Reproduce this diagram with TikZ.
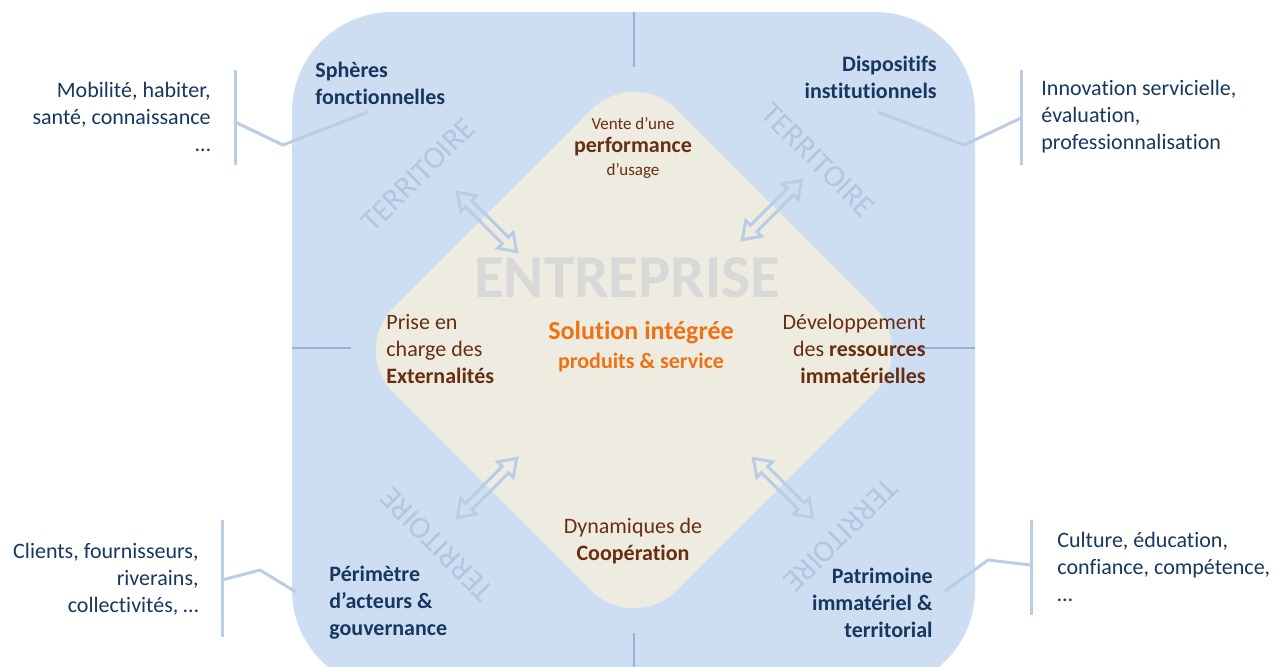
\documentclass[tikz,border=0pt]{standalone}
\usepackage{fontspec}
\setmainfont{Carlito}[Ligatures=NoCommon]
\definecolor{cadre}{RGB}{205,222,242}
\definecolor{coeur}{RGB}{238,236,225}
\definecolor{trait}{RGB}{149,179,215}
\definecolor{pale}{RGB}{185,205,229}
\definecolor{filigrane}{RGB}{178,198,225}
\definecolor{bleunuit}{RGB}{23,55,94}
\definecolor{brun}{RGB}{105,45,15}
\definecolor{solorange}{RGB}{240,112,20}
\definecolor{gristitre}{RGB}{216,216,216}
\tikzset{
  quart/.style={font=\bfseries\fontsize{11}{13.5}\selectfont, text=bleunuit, inner sep=0pt},
  exemple/.style={font=\fontsize{11}{13.5}\selectfont, text=bleunuit, inner sep=0pt},
  pole/.style={font=\fontsize{11}{13.5}\selectfont, text=brun, inner sep=0pt},
  terr/.style={font=\fontsize{15.5}{18}\selectfont, text=filigrane, inner sep=0pt},
  sep/.style={draw=trait, line width=1pt},
  callout/.style={draw=pale, line width=1.5pt},
  dblarrow/.pic={
    \draw[pale, line width=1.5pt] (-42,0) -- (-26,-11) -- (-26,-4.5) -- (26,-4.5) -- (26,-11)
      -- (42,0) -- (26,11) -- (26,4.5) -- (-26,4.5) -- (-26,11) -- cycle;
  }
}
\begin{document}
\begin{tikzpicture}[x=0.5pt, y=-0.5pt]
	\useasboundingbox (0,0) rectangle (1285,666);
	\clip (0,0) rectangle (1285,666);
	% territoire
	\fill[cadre, rounded corners=50pt] (292,12) rectangle (975,690);
	\coordinate (e-n) at (634,67);
	\coordinate (e-e) at (917,350);
	\coordinate (e-s) at (634,633);
	\coordinate (e-w) at (351,350);
	\draw[sep] (634,12) -- (e-n);
	\draw[sep] (e-s) -- (634,690);
	\draw[sep] (292,348) -- (e-w |- 0,348);
	\draw[sep] (e-e |- 0,348) -- (975,348);
	% entreprise
	\fill[coeur, rounded corners=30pt] (e-n) -- (e-e) -- (e-s) -- (e-w) -- cycle;
	\node[terr, rotate=45] (t-no) at (418,175) {TERRITOIRE};
	\node[terr, rotate=-45] (t-ne) at (818,160) {TERRITOIRE};
	\node[terr, rotate=135] (t-so) at (437,545) {TERRITOIRE};
	\node[terr, rotate=-135] (t-se) at (841,535) {TERRITOIRE};
	\pic[rotate=-45] at (487,222) {dblarrow};
	\pic[rotate=45] at (772,210) {dblarrow};
	\pic[rotate=45] at (487,488) {dblarrow};
	\pic[rotate=-45] at (783,488) {dblarrow};
	\node[font=\bfseries\fontsize{30.5}{36}\selectfont, text=gristitre, inner sep=0pt] (entr) at (627,278) {ENTREPRISE};
	\node[font=\bfseries\fontsize{13}{15}\selectfont, text=solorange, inner sep=0pt] (sol) at (641,333) {Solution intégrée};
	\node[font=\bfseries\fontsize{11}{13.5}\selectfont, text=solorange, inner sep=0pt] (prod) at (641,362) {produits \& service};
	% poles
	\node[pole, font=\fontsize{8.5}{10}\selectfont] (vente) at (633,124) {Vente d’une};
	\node[pole, font=\bfseries\fontsize{11}{13.5}\selectfont] (perf) at (633,147) {performance};
	\node[pole, font=\fontsize{8.5}{10}\selectfont] (usage) at (633,171) {d’usage};
	\node[pole, align=left, anchor=west] (ext) at (386,349) {Prise en\\charge des\\\textbf{Externalités}};
	\node[pole, align=right, anchor=east] (dev) at (926,349) {Développement\\des \textbf{ressources}\\\textbf{immatérielles}};
	\node[pole, align=center] (coop) at (633,541) {Dynamiques de\\\textbf{Coopération}};
	% quadrants
	\node[quart, align=left, anchor=west] (sph) at (315,83) {Sphères\\fonctionnelles};
	\node[quart, align=right, anchor=east] (disp) at (937,77) {Dispositifs\\institutionnels};
	\node[quart, align=left, anchor=west] (perim) at (329,603) {Périmètre\\d’acteurs \&\\gouvernance};
	\node[quart, align=right, anchor=east] (patr) at (933,603) {Patrimoine\\immatériel \&\\territorial};
	% exemples
	\node[exemple, align=right, anchor=east] (mob) at (211,117) {Mobilité, habiter,\\santé, connaissance\\…};
	\node[exemple, align=left, anchor=west] (innov) at (1041,117) {Innovation servicielle,\\évaluation,\\professionnalisation};
	\node[exemple, align=right, anchor=east] (cli) at (199,579) {Clients, fournisseurs,\\riverains,\\collectivités, …};
	\node[exemple, align=left, anchor=west] (cult) at (1057,567) {Culture, éducation,\\confiance, compétence,\\…};
	% renvois
	\coordinate (no-h) at (235,70);
	\coordinate (no-b) at (235,165);
	\coordinate (no-m) at (235,122);
	\coordinate (no-p) at (368,112);
	\draw[callout] (no-h) -- (no-b);
	\draw[callout] (no-m) -- (283,145) -- (no-p);
	\coordinate (ne-h) at (1021,70);
	\coordinate (ne-b) at (1021,165);
	\coordinate (ne-m) at (1021,118);
	\coordinate (ne-p) at (878,112);
	\draw[callout] (ne-h) -- (ne-b);
	\draw[callout] (ne-m) -- (964,145) -- (ne-p);
	\coordinate (so-h) at (222,520);
	\coordinate (so-b) at (222,637);
	\coordinate (so-m) at (222,580);
	\coordinate (so-p) at (296,592);
	\draw[callout] (so-h) -- (so-b);
	\draw[callout] (so-m) -- (260,570) -- (so-p);
	\coordinate (se-h) at (1031,520);
	\coordinate (se-b) at (1031,615);
	\coordinate (se-m) at (1031,565);
	\coordinate (se-p) at (945,591);
	\draw[callout] (se-h) -- (se-b);
	\draw[callout] (se-m) -- (988,560) -- (se-p);
\end{tikzpicture}
\end{document}
